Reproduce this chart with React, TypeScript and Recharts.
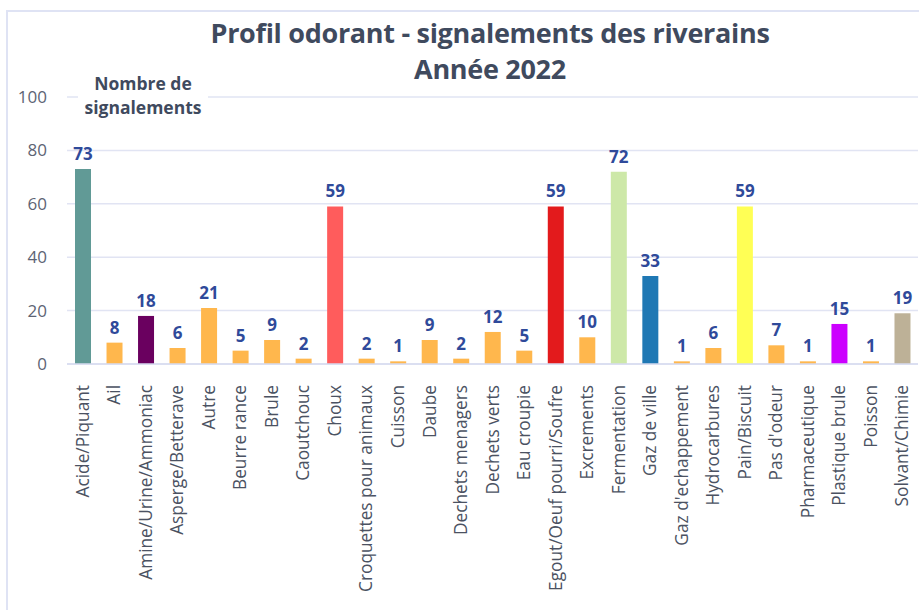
import { BarChart, Bar, XAxis, YAxis, CartesianGrid, Cell, LabelList } from "recharts";

const categories: string[] = [
  "Acide/Piquant",
  "Ail",
  "Amine/Urine/Ammoniac",
  "Asperge/Betterave",
  "Autre",
  "Beurre rance",
  "Brule",
  "Caoutchouc",
  "Choux",
  "Croquettes pour animaux",
  "Cuisson",
  "Daube",
  "Dechets menagers",
  "Dechets verts",
  "Eau croupie",
  "Egout/Oeuf pourri/Soufre",
  "Excrements",
  "Fermentation",
  "Gaz de ville",
  "Gaz d'echappement",
  "Hydrocarbures",
  "Pain/Biscuit",
  "Pas d'odeur",
  "Pharmaceutique",
  "Plastique brule",
  "Poisson",
  "Solvant/Chimie",
];

const signalements: number[] = [
  73, 8, 18, 6, 21, 5, 9, 2, 59, 2, 1, 9, 2, 12, 5, 59, 10, 72, 33, 1, 6, 59, 7, 1, 15, 1, 19,
];

const yTicks: number[] = [0, 20, 40, 60, 80, 100];

const ORANGE = "#ffb74d";
const specialColors: Record<string, string> = {
  "Acide/Piquant": "#619a96",
  "Amine/Urine/Ammoniac": "#6a005f",
  Choux: "#ff5c5c",
  "Egout/Oeuf pourri/Soufre": "#e31a1c",
  Fermentation: "#cde8a8",
  "Gaz de ville": "#1f78b4",
  "Pain/Biscuit": "#ffff55",
  "Plastique brule": "#cc00ff",
  "Solvant/Chimie": "#bdb197",
};

const data = categories.map((name, i) => ({ name, value: signalements[i] }));

const FONT = "'Open Sans', 'Noto Sans', sans-serif";

function CategoryTick(props: any) {
  const { x, y, payload } = props;
  return (
    <g transform={`translate(${x},${y})`}>
      <text
        transform="rotate(-90)"
        x={-13}
        y={0}
        dy="0.35em"
        textAnchor="end"
        fill="#4b5262"
        fontSize={17.3}
        fontFamily={FONT}
      >
        {payload.value}
      </text>
    </g>
  );
}

export default function App() {
  return (
    <div
      style={{
        position: "absolute",
        left: 0,
        top: 0,
        width: 919,
        height: 610,
        overflow: "hidden",
        background: "#fff",
        fontFamily: FONT,
      }}
    >
      <div
        style={{
          position: "absolute",
          left: 6,
          top: 10,
          width: 940,
          height: 640,
          border: "2px solid #dfe3f4",
          boxSizing: "border-box",
        }}
      />
      <BarChart
        width={919}
        height={610}
        data={data}
        margin={{ top: 97, right: 1, left: 0, bottom: 0 }}
        style={{ position: "absolute", left: 0, top: 0 }}
      >
        <CartesianGrid vertical={false} stroke="#e1e4f3" strokeWidth={1.5} />
        <XAxis
          dataKey="name"
          interval={0}
          height={246}
          tickLine={false}
          axisLine={{ stroke: "#d7dbef", strokeWidth: 1.5 }}
          tick={<CategoryTick />}
        />
        <YAxis
          width={67}
          domain={[0, 100]}
          ticks={yTicks}
          tickLine={false}
          axisLine={false}
          tickMargin={14}
          tick={{ fill: "#5d6474", fontSize: 17, fontFamily: FONT }}
        />
        <Bar dataKey="value" barSize={16} isAnimationActive={false}>
          {data.map((d) => (
            <Cell key={d.name} fill={specialColors[d.name] ?? ORANGE} />
          ))}
          <LabelList
            dataKey="value"
            position="top"
            offset={9}
            fill="#2f4a9a"
            fontSize={17}
            fontWeight={700}
            fontFamily={FONT}
          />
        </Bar>
      </BarChart>
      <div
        style={{
          position: "absolute",
          left: 0,
          width: 980,
          top: 15,
          textAlign: "center",
          color: "#3f4a5e",
          fontSize: 27,
          fontWeight: 700,
          lineHeight: "36px",
          letterSpacing: -0.3,
        }}
      >
        Profil odorant - signalements des riverains
        <br />
        Année 2022
      </div>
      <div
        style={{
          position: "absolute",
          left: 78,
          top: 71,
          width: 130,
          textAlign: "center",
          background: "#fff",
          color: "#3f4a5e",
          fontSize: 17.5,
          fontWeight: 700,
          lineHeight: "24px",
        }}
      >
        Nombre de
        <br />
        signalements
      </div>
    </div>
  );
}
